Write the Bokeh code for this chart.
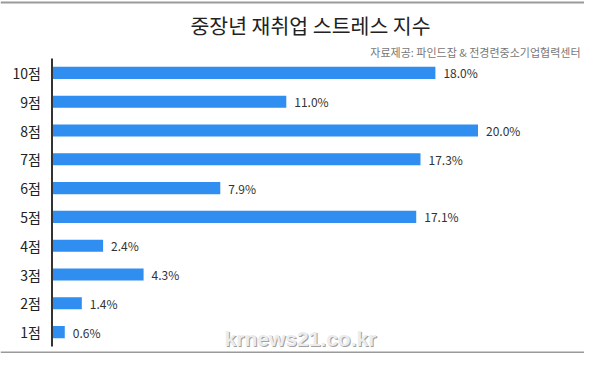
from bokeh.plotting import figure
from bokeh.models import Range1d, Label, ColumnDataSource, Span
from bokeh.core.properties import value
from bokeh.embed import file_html
from bokeh.resources import INLINE

categories = ["10점", "9점", "8점", "7점", "6점", "5점", "4점", "3점", "2점", "1점"]
values = [18.0, 11.0, 20.0, 17.3, 7.9, 17.1, 2.4, 4.3, 1.4, 0.6]
value_labels = ["18.0%", "11.0%", "20.0%", "17.3%", "7.9%", "17.1%", "2.4%", "4.3%", "1.4%", "0.6%"]
title_text = "중장년 재취업 스트레스 지수"
source_text = "자료제공: 파인드잡 & 전경련중소기업협력센터"
watermark_text = "krnews21.co.kr"

KR = "Noto Sans CJK KR"
W, H = 584, 353
PX_PER_PCT = 21.3
ZERO_X = 51.5          # figure px of the value axis
ROW = 28.8             # px per category row
TOP = 58               # px above first row

n = len(categories)
rows = list(range(n))
src = ColumnDataSource(dict(cat=categories, val=values, lab=value_labels, row=rows,
                            zero=[0] * n))

p = figure(width=W, height=H, output_backend="svg", toolbar_location=None,
           x_range=Range1d(-ZERO_X / PX_PER_PCT, (W - ZERO_X) / PX_PER_PCT),
           y_range=Range1d((H - TOP - ROW / 2) / ROW, -(TOP + ROW / 2) / ROW),
           min_border=0, min_border_left=0, min_border_right=0,
           min_border_top=0, min_border_bottom=0)
p.axis.visible = False
p.grid.visible = False
p.outline_line_color = None

p.hbar(y="row", right="val", left=0, height=0.42, source=src,
       fill_color="#2f8ef0", line_color=None)
# value axis line spanning all categories
p.segment(x0=0, y0=-0.5, x1=0, y1=n - 0.5, line_color="#333333", line_width=2)
# category labels
p.text(x="zero", y="row", text="cat", source=src, x_offset=-11,
       text_baseline="middle", text_align="right", text_font=value(KR),
       text_font_size="14px", text_color="#222222")
# value labels
p.text(x="val", y="row", text="lab", source=src, x_offset=8,
       text_baseline="middle", text_align="left", text_font=value(KR),
       text_font_size="12px", text_color="#333333")

p.add_layout(Label(x=310, y=H - 24, x_units="screen", y_units="screen",
                   text=title_text, text_align="center", text_baseline="middle",
                   text_font=KR, text_font_size="20.5px", text_color="#222222"))
p.add_layout(Label(x=580, y=H - 51, x_units="screen", y_units="screen",
                   text=source_text, text_align="right", text_baseline="middle",
                   text_font=KR, text_font_size="11px", text_color="#777777"))
p.add_layout(Label(x=301, y=H - 339, x_units="screen", y_units="screen",
                   text=watermark_text, text_align="center", text_baseline="middle",
                   text_font="Liberation Sans", text_font_style="bold",
                   text_font_size="21px", text_color="#a0a0a0"))
p.add_layout(Label(x=300, y=H - 338, x_units="screen", y_units="screen",
                   text=watermark_text, text_align="center", text_baseline="middle",
                   text_font="Liberation Sans", text_font_style="bold",
                   text_font_size="21px", text_color="#ececec"))
p.add_layout(Span(location=1, dimension="width", location_units="screen",
                  line_color="#9a9a9a", line_width=2))
p.add_layout(Span(location=H - 2, dimension="width", location_units="screen",
                  line_color="#9a9a9a", line_width=2))

open("out.html", "w").write(file_html(p, INLINE))
